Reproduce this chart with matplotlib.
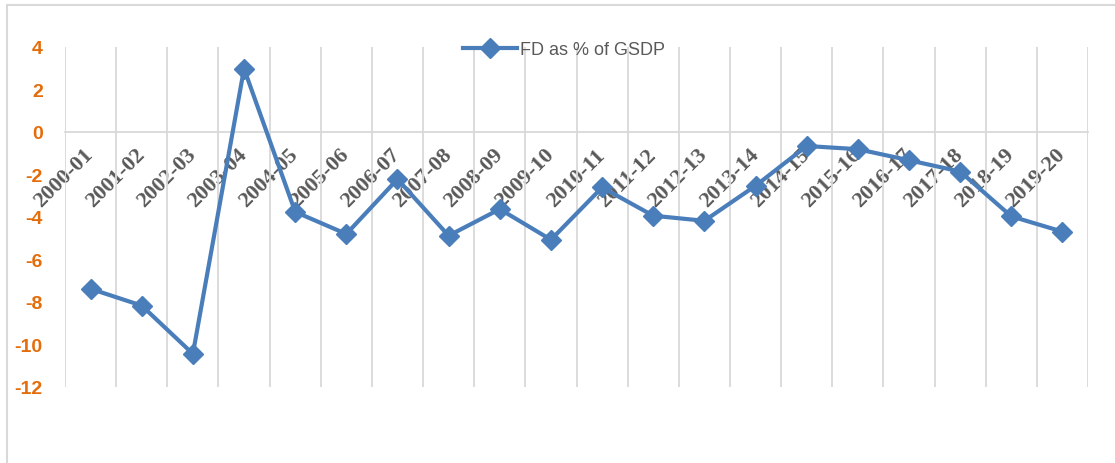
import numpy as np
import matplotlib
matplotlib.use("Agg")
import matplotlib.pyplot as plt
from matplotlib.patches import Rectangle
from matplotlib.lines import Line2D

years = ['2000-01', '2001-02', '2002-03', '2003-04', '2004-05', '2005-06',
         '2006-07', '2007-08', '2008-09', '2009-10', '2010-11', '2011-12',
         '2012-13', '2013-14', '2014-15', '2015-16', '2016-17', '2017-18',
         '2018-19', '2019-20']
fd_pct_gsdp = [-7.38, -8.17, -10.44, 2.98, -3.76, -4.80, -2.22, -4.88, -3.63,
               -5.07, -2.61, -3.94, -4.18, -2.53, -0.66, -0.81, -1.33, -1.86,
               -3.97, -4.69]
y_ticks = [4, 2, 0, -2, -4, -6, -8, -10, -12]

blue = '#4A7EBB'
orange = '#E46C0A'
grey_txt = '#595959'
grid_col = '#D9D9D9'

fig = plt.figure(figsize=(11.15, 4.64), dpi=100)
ax = fig.add_axes([0.0583, 0.1638, 0.9175, 0.7328])

# outer chart frame, runs off the right and bottom edges
fig.patches.append(Rectangle((7 / 1115, -0.2), 1.2, 1.2 - 6 / 464,
                             transform=fig.transFigure, fill=False,
                             edgecolor=grid_col, linewidth=1.5))

x = np.arange(len(years))
ax.plot(x, fd_pct_gsdp, color=blue, lw=3, marker='D', markersize=10.5,
        markeredgecolor=blue, markerfacecolor=blue, zorder=3)

ax.set_xlim(-0.5, len(years) - 0.5)
ax.set_ylim(-12, 4)

# vertical gridlines between categories
ax.set_xticks(np.arange(-0.5, len(years), 1), minor=True)
ax.grid(which='minor', axis='x', color=grid_col, lw=1.3)
ax.tick_params(which='minor', length=0)

for s in ['top', 'right', 'left']:
    ax.spines[s].set_visible(False)
ax.spines['bottom'].set_position(('data', 0))
ax.spines['bottom'].set_color(grid_col)
ax.spines['bottom'].set_linewidth(1.3)

ax.set_xticks(x)
ax.tick_params(axis='x', length=0, pad=14)
ax.set_yticks(y_ticks)
ax.tick_params(axis='y', length=0, pad=16)

ax.set_xticklabels(years)
for lab in ax.get_xticklabels():
    lab.set_fontfamily('Liberation Serif')
    lab.set_fontweight('bold')
    lab.set_fontsize(16)
    lab.set_color(grey_txt)
    lab.set_rotation(45)
    lab.set_rotation_mode('anchor')
    lab.set_ha('right')
    lab.set_va('center')

ax.set_yticklabels([str(v) for v in y_ticks])
for lab in ax.get_yticklabels():
    lab.set_fontfamily('Liberation Sans')
    lab.set_fontweight('bold')
    lab.set_fontsize(14)
    lab.set_color(orange)

handle = Line2D([], [], color=blue, lw=3, marker='D', markersize=10.5)
leg = ax.legend([handle], ['FD as % of GSDP'], loc='upper center',
                bbox_to_anchor=(0.488, 1.065), frameon=False, handlelength=3.0,
                handletextpad=0.15, prop={'family': 'Liberation Sans', 'size': 13})
for t in leg.get_texts():
    t.set_color(grey_txt)

fig.savefig('out.png', dpi=100)
